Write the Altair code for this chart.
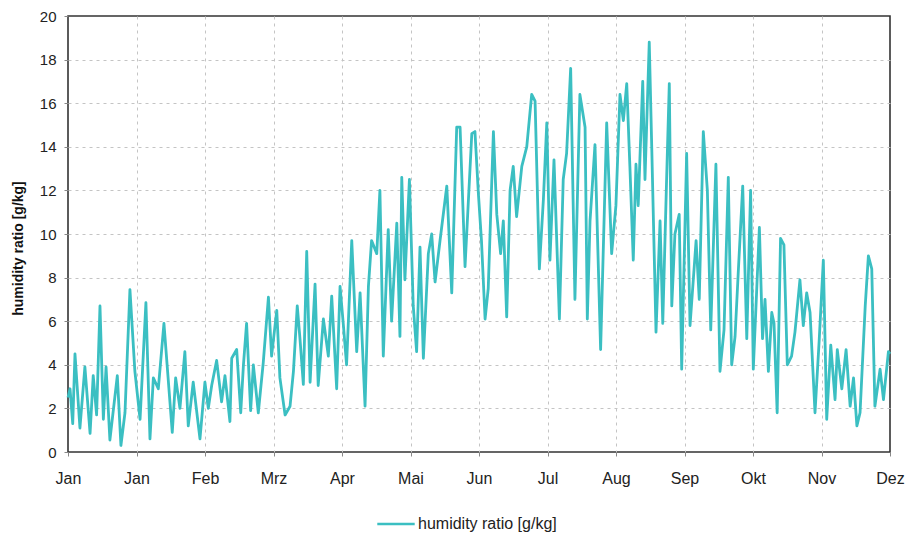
import altair as alt
import pandas as pd

# ---- data (day of year, humidity ratio g/kg) ----
days = [0, 0.9, 2.1, 3.1, 5.3, 7.5, 9.8, 11.2, 12.7, 14.2, 15.7, 16.9, 18.6, 21.9, 23.5, 25.3,
        27.5, 29.7, 32.0, 34.6, 36.4, 37.9, 40.1, 42.6, 46.3, 47.8, 49.7, 51.9, 53.4, 55.6, 58.6,
        60.8, 62.3, 63.8, 66.0, 68.2, 69.7, 71.9, 72.7, 74.9, 76.7, 77.9, 79.3, 81.1, 82.3, 84.5,
        86.7, 89.0, 90.4, 92.7, 94.1, 96.4, 98.6, 100.1, 101.8, 103.0, 104.5, 106.0, 107.5, 109.7,
        111.1, 113.4, 115.6, 117.1, 119.3, 120.8,
        122.3, 123.7, 126.0, 128.2, 129.7, 131.9, 133.4, 134.8, 137.1, 138.5, 140.0, 142.2, 143.7,
        146.0, 147.4, 148.2, 149.6, 151.6, 153.3, 154.8, 156.3, 157.8, 160.0, 161.5, 163.0, 165.2,
        168.2, 170.4, 172.6, 174.1, 176.3, 179.3, 180.7, 182.2, 183.6,
        185.2, 186.6, 188.9, 190.4, 192.1, 193.3, 194.8, 196.3, 197.7, 199.2, 201.5, 203.7, 205.9,
        207.4, 209.3, 211.1, 212.6, 214.0, 215.8, 218.2, 219.9, 221.4, 223.2, 225.1, 227.3, 229.6,
        230.6, 231.8, 234.0, 236.5, 239.2, 241.4, 243.3, 245.1,
        246.6, 248.1, 249.5, 251.0, 252.2, 253.2, 255.2, 256.2, 258.1, 259.2, 261.1, 262.9, 264.1,
        265.8, 267.0, 268.1, 269.5, 271.4, 272.5, 274.7, 276.2, 278.9, 280.3, 282.1, 283.9, 285.4,
        287.7, 289.5, 291.3, 293.2, 294.7, 296.2, 297.6, 299.6, 301.4, 303.1, 304.3, 307.0,
        308.4, 309.5, 311.0, 312.5, 313.5, 314.9, 316.4, 317.9, 319.4, 321.3, 322.8, 325.0, 326.5,
        328.0, 329.5, 331.7, 333.6, 335.4, 336.9, 338.7, 340.6, 341.6, 343.6, 345.5, 347.3, 348.8,
        350.3, 351.7, 354.0, 355.4, 356.9, 358.3, 360.6, 362.1, 364.3, 365.0]

humidity = [2.5, 2.9, 1.3, 4.5, 1.1, 3.9, 0.85, 3.5, 1.7, 6.7, 1.5, 3.9, 0.55, 3.5, 0.3, 1.8,
            7.45, 3.7, 1.5, 6.85, 0.6, 3.4, 2.9, 5.9, 0.9, 3.4, 2.0, 4.6, 1.2, 3.2, 0.6,
            3.2, 2.0, 3.05, 4.2, 2.3, 3.5, 1.4, 4.3, 4.7, 1.8, 4.0, 5.9, 1.9, 4.0, 1.8,
            4.1, 7.1, 4.4, 6.5, 3.4, 1.7, 2.1, 3.7, 6.7, 5.2, 3.1, 9.2, 3.2, 7.7,
            3.05, 6.1, 4.4, 7.15, 2.9, 7.6,
            5.8, 4.0, 9.7, 4.6, 7.3, 2.1, 7.6, 9.7, 9.1, 12.0, 4.4, 10.2, 6.0,
            10.5, 5.3, 12.6, 7.9, 12.5, 6.7, 4.6, 9.4, 4.3, 9.1, 10.0, 7.8, 9.7,
            12.2, 7.3, 14.9, 14.9, 8.5, 14.6, 14.7, 11.9, 9.7,
            6.1, 7.5, 14.7, 10.9, 9.1, 10.6, 6.2, 12.0, 13.1, 10.8, 13.1, 14.0, 16.4,
            16.1, 8.4, 11.6, 15.1, 8.8, 13.4, 6.1, 12.5, 13.7, 17.6, 7.0, 16.4, 14.9,
            6.1, 10.6, 14.1, 4.7, 15.1, 9.1, 11.3, 16.4,
            15.2, 16.9, 13.1, 8.8, 13.2, 11.3, 17.0, 12.5, 18.8, 14.0, 5.5, 10.6, 5.9,
            12.5, 16.9, 6.7, 10.0, 10.9, 3.8, 13.7, 5.8, 9.7, 7.0, 14.7, 12.0, 5.6,
            13.2, 3.7, 5.6, 12.6, 4.0, 5.3, 8.2, 12.2, 5.2, 12.0, 3.8, 10.3,
            5.2, 7.0, 3.7, 6.4, 5.9, 1.8, 9.8, 9.5, 4.0, 4.4, 5.5, 7.9, 5.8,
            7.3, 6.4, 1.8, 5.2, 8.8, 1.5, 4.9, 2.4, 4.7, 2.9, 4.7, 2.1, 3.4,
            1.2, 1.8, 6.7, 9.0, 8.4, 2.1, 3.8, 2.4, 4.6, 4.5]

tick_labels = ["Jan", "Jan", "Feb", "Mrz", "Apr", "Mai", "Jun", "Jul", "Aug",
               "Sep", "Okt", "Nov", "Dez"]
series_name = "humidity ratio  [g/kg]"
y_ticks = [0, 2, 4, 6, 8, 10, 12, 14, 16, 18, 20]

df = pd.DataFrame({"day": days, "value": humidity, "series": series_name})

step = 365 / 12
tick_pos = [i * step for i in range(len(tick_labels))]
label_array = "[" + ",".join("'" + t + "'" for t in tick_labels) + "]"
label_expr = label_array + "[round(datum.value / " + repr(step) + ")]"

FONT = "Liberation Sans"
teal = "#3BBFC2"
GRID = "#c4c4c4"

x_grid_opacity = {"condition": {"test": "datum.value < 1 || datum.value > 364", "value": 0}, "value": 1}
y_grid_opacity = {"condition": {"test": "datum.value < 0.5 || datum.value > 19.5", "value": 0}, "value": 1}

chart = (
    alt.Chart(df)
    .mark_line(strokeWidth=2.8, strokeJoin="round")
    .encode(
        x=alt.X(
            "day:Q",
            scale=alt.Scale(domain=[0, 365], nice=False, zero=False),
            axis=alt.Axis(
                values=tick_pos,
                labelExpr=label_expr,
                labelFlush=False,
                labelBound=False,
                labelOverlap=False,
                title=None,
                grid=True,
                gridDash=[3, 4],
                gridColor=GRID,
                gridOpacity=x_grid_opacity,
                tickSize=4,
                tickColor="#888",
                labelPadding=14,
                labelFontSize=16,
                labelFont=FONT,
                labelColor="#222",
                domain=False,
            ),
        ),
        y=alt.Y(
            "value:Q",
            scale=alt.Scale(domain=[0, 20], nice=False),
            axis=alt.Axis(
                values=y_ticks,
                title="humidity ratio  [g/kg]",
                titleFont=FONT,
                titleFontSize=14,
                titleFontWeight="bold",
                titleColor="#111",
                titleAngle=-90,
                titleX=-50,
                titleY=232,
                titleAlign="center",
                titleBaseline="middle",
                grid=True,
                gridDash=[3, 4],
                gridColor=GRID,
                gridOpacity=y_grid_opacity,
                tickSize=4,
                tickColor="#888",
                labelPadding=8,
                labelFontSize=15,
                labelFont=FONT,
                labelColor="#222",
                labelOverlap=False,
                domain=False,
            ),
        ),
        color=alt.Color(
            "series:N",
            scale=alt.Scale(domain=[series_name], range=[teal]),
            legend=alt.Legend(
                title=None,
                orient="none",
                legendX=308,
                legendY=488,
                symbolType="stroke",
                symbolSize=1400,
                symbolStrokeWidth=2.4,
                labelFont=FONT,
                labelFontSize=16,
                labelColor="#222",
                labelOffset=2,
            ),
        ),
    )
    .properties(
        width=822,
        height=436,
        padding={"left": 60, "top": 8, "right": 18, "bottom": 84},
        autosize=alt.AutoSizeParams(type="none"),
    )
    .configure(background="white")
    .configure_view(stroke="#333333", strokeWidth=1.6)
)

chart.save("out.html", embed_options={"renderer": "svg", "actions": False})
